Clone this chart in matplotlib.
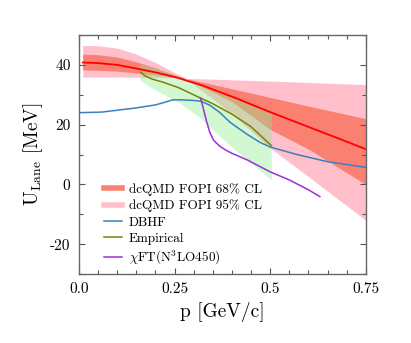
import numpy as np
import matplotlib
matplotlib.use("Agg")
import matplotlib.pyplot as plt
from matplotlib.ticker import MultipleLocator

plt.rcParams['font.family'] = 'serif'
plt.rcParams['font.serif'] = ['cmr10']
plt.rcParams['mathtext.fontset'] = 'cm'
plt.rcParams['axes.formatter.use_mathtext'] = True
plt.rcParams['axes.unicode_minus'] = False

# ---- dcQMD FOPI (centre line and bands) ----
p_qmd = [0.01, 0.05, 0.10, 0.15, 0.20, 0.255, 0.325, 0.41, 0.50, 0.585, 0.67, 0.75]
u_qmd = [40.8, 40.6, 40.0, 38.8, 37.5, 35.8, 33.0, 28.9, 24.2, 20.0, 15.8, 11.8]

p_band = [0.01, 0.05, 0.10, 0.15, 0.20, 0.25, 0.28, 0.40, 0.50, 0.60, 0.75]
u68_hi = [43.6, 43.4, 42.6, 41.0, 39.0, 36.6, 35.4, 32.0, 29.1, 26.2, 22.0]
u68_lo = [38.3, 38.2, 37.9, 37.3, 36.6, 35.9, 35.3, 27.7, 18.4, 11.8, 0.0]
u95_hi = [46.5, 46.4, 45.6, 43.6, 40.8, 37.4, 35.5, 35.0, 34.6, 34.1, 33.4]
u95_lo = [35.9, 35.9, 35.9, 35.9, 35.8, 35.6, 35.4, 23.6, 12.2, 2.6, -12.0]

# ---- Empirical ----
p_emp = [0.162, 0.172, 0.19, 0.22, 0.26, 0.316, 0.35, 0.40, 0.45, 0.503]
u_emp = [37.5, 36.4, 35.3, 34.2, 32.4, 29.0, 27.0, 23.5, 19.3, 13.0]
p_emp_band = [0.16, 0.18, 0.22, 0.26, 0.31, 0.35, 0.40, 0.47, 0.503]
u_emp_hi = [40.2, 39.6, 38.0, 36.0, 33.5, 31.5, 29.0, 25.5, 23.8]
u_emp_lo = [35.0, 33.0, 30.3, 27.5, 23.0, 18.3, 12.5, 5.0, 1.5]

# ---- DBHF ----
p_dbhf = [0.0, 0.06, 0.15, 0.20, 0.225, 0.245, 0.265, 0.30, 0.32, 0.342, 0.368,
          0.395, 0.438, 0.473, 0.50, 0.57, 0.65, 0.75]
u_dbhf = [24.0, 24.2, 25.6, 26.6, 27.5, 28.3, 28.3, 28.1, 27.8, 26.5, 24.1,
          20.8, 16.9, 14.1, 12.5, 10.0, 7.6, 5.7]

# ---- chiral EFT ----
p_chi = [0.318, 0.322, 0.327, 0.334, 0.342, 0.352, 0.368, 0.385, 0.40, 0.44,
         0.50, 0.55, 0.60, 0.63]
u_chi = [28.8, 27.0, 24.5, 21.0, 17.5, 14.8, 12.8, 11.4, 10.4, 8.2,
         4.2, 1.5, -1.8, -4.1]

fig = plt.figure(figsize=(4.11, 3.43), dpi=100)
ax = fig.add_axes([0.192, 0.201, 0.698, 0.697])

ax.fill_between(p_band, u95_lo, u95_hi, color='pink', lw=0)
ax.fill_between(p_band, u68_lo, u68_hi, color='salmon', lw=0)
ax.fill_between(p_emp_band, u_emp_lo, u_emp_hi, color='lightgreen', alpha=0.4, lw=0)
ax.plot(p_qmd, u_qmd, color='red', lw=1.3)
ax.plot(p_dbhf, u_dbhf, color='#3a80c0', lw=1.1)
ax.plot(p_emp, u_emp, color='olive', lw=1.1)
ax.plot(p_chi, u_chi, color='#9b30d9', lw=1.1)

# legend handles
h1, = ax.plot([], [], color='salmon', lw=4, label='dcQMD FOPI 68% CL')
h2, = ax.plot([], [], color='pink', lw=4, label='dcQMD FOPI 95% CL')
h3, = ax.plot([], [], color='#3a80c0', lw=1.1, label='DBHF')
h4, = ax.plot([], [], color='olive', lw=1.1, label='Empirical')
h5, = ax.plot([], [], color='#9b30d9', lw=1.1, label=r'$\chi$FT(N$^3$LO450)')
ax.legend(handles=[h1, h2, h3, h4, h5], loc='lower left', bbox_to_anchor=(0.045, -0.02),
          frameon=False, fontsize=9.5, handlelength=1.4, handletextpad=0.5,
          labelspacing=0.3)

ax.set_xlim(0, 0.75)
ax.set_ylim(-30, 50)
ax.set_xticks([0, 0.25, 0.5, 0.75])
ax.set_xticklabels(['0.0', '0.25', '0.5', '0.75'])
ax.set_yticks([-20, 0, 20, 40])
ax.set_yticklabels(['-20', '0', '20', '40'])
ax.xaxis.set_minor_locator(MultipleLocator(0.05))
ax.yaxis.set_minor_locator(MultipleLocator(10))
ax.tick_params(which='both', direction='in', top=True, right=True, color='#555555',
               labelsize=11, width=0.8)
ax.tick_params(which='major', length=4, pad=6)
ax.tick_params(which='minor', length=3)
for s in ax.spines.values():
    s.set_color('#666666')
    s.set_linewidth(1.0)

ax.set_xlabel('p [GeV/c]', fontsize=14)
ax.set_ylabel(r'U$_{\rm Lane}$ [MeV]', fontsize=14)

fig.savefig('out.png', dpi=100)
